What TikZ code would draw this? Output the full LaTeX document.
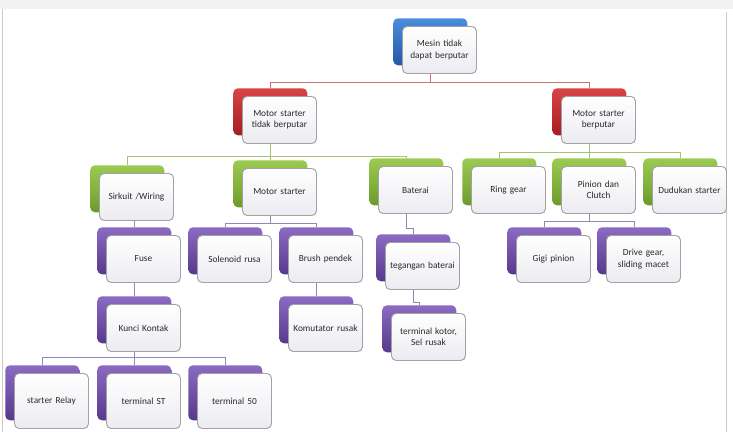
\documentclass[tikz,border=0pt]{standalone}
\usepackage{fontspec}
\setmainfont{Carlito}
\usetikzlibrary{calc}
\definecolor{bluetop}{HTML}{4A8EDB}
\definecolor{bluebot}{HTML}{2457A8}
\definecolor{redtop}{HTML}{D94446}
\definecolor{redbot}{HTML}{A51D22}
\definecolor{greentop}{HTML}{9CCB52}
\definecolor{greenbot}{HTML}{6C9B2A}
\definecolor{purptop}{HTML}{8C6BC2}
\definecolor{purpbot}{HTML}{56398C}
\definecolor{frontline}{HTML}{A2A2A6}
\definecolor{frontbot}{HTML}{ECEBF1}
\definecolor{txt}{HTML}{2A2A2A}
\definecolor{linered}{HTML}{CC7476}
\definecolor{linegreen}{HTML}{A4C46E}
\definecolor{linepurp}{HTML}{9088B6}
\definecolor{framegray}{HTML}{CACACA}
\newcommand\pairnode[6]{%
  \node[#2,#5] (#1B) at (#3,#4) {};
  \node[frontbox,#5] (#1) at (#3+9,#4+8) {#6};
}
\tikzset{
  backbox/.style={rectangle, rounded corners=3.5pt, minimum width=55.5pt, minimum height=35.25pt, inner sep=0pt, anchor=north west, draw=none},
  bluebox/.style={backbox, top color=bluetop, bottom color=bluebot},
  redbox/.style={backbox, top color=redtop, bottom color=redbot},
  greenbox/.style={backbox, top color=greentop, bottom color=greenbot},
  purpbox/.style={backbox, top color=purptop, bottom color=purpbot},
  frontbox/.style={rectangle, rounded corners=3.5pt, minimum width=55.5pt, minimum height=35.25pt, inner sep=1pt, align=center, anchor=north west, draw=frontline, line width=0.7pt, top color=white, bottom color=frontbot, font=\fontsize{7}{8.6}\selectfont, text=txt, text width=52pt},
  tallbox/.style={minimum height=41.25pt},
  cred/.style={draw=linered, line width=0.7pt},
  cgreen/.style={draw=linegreen, line width=0.7pt},
  cpurp/.style={draw=linepurp, line width=0.7pt},
}
\begin{document}
\begin{tikzpicture}[x=0.75pt,y=-0.75pt]
\useasboundingbox (0,0) rectangle (733,432);
\fill[white] (0,0) rectangle (733,432);
\fill[black!5] (0,0) rectangle (733,9);
\draw[framegray, line width=0.75pt] (2,9) -- (2,432);
\draw[framegray, line width=0.75pt] (726,12) -- (726,432);
% level 0
\pairnode{top}{bluebox}{393}{18}{}{Mesin tidak\\dapat berputar}
% level 1
\pairnode{mr}{redbox}{233}{88}{}{Motor starter\\tidak berputar}
\pairnode{mb}{redbox}{552}{88}{}{Motor starter\\berputar}
% level 2
\pairnode{sirk}{greenbox}{90}{165}{}{Sirkuit /Wiring}
\pairnode{mg}{greenbox}{233}{160}{}{Motor starter}
\pairnode{bat}{greenbox}{369}{158}{}{Baterai}
\pairnode{ring}{greenbox}{462}{158}{}{Ring gear}
\pairnode{pin}{greenbox}{552}{158}{}{Pinion dan\\Clutch}
\pairnode{dud}{greenbox}{643}{158}{}{Dudukan starter}
% level 3
\pairnode{fuse}{purpbox}{97}{227}{}{Fuse}
\pairnode{sol}{purpbox}{188}{227}{}{Solenoid rusa}
\pairnode{br}{purpbox}{279}{227}{}{Brush pendek}
\pairnode{teg}{purpbox}{376}{234}{}{tegangan baterai}
\pairnode{gigi}{purpbox}{507}{227}{}{Gigi pinion}
\pairnode{drv}{purpbox}{597}{227}{}{Drive gear,\\sliding macet}
% level 4
\pairnode{kunci}{purpbox}{97}{296}{}{Kunci Kontak}
\pairnode{kom}{purpbox}{279}{296}{}{Komutator rusak}
\pairnode{kot}{purpbox}{382}{305}{}{terminal kotor,\\Sel rusak}
% level 5
\pairnode{rel}{purpbox}{5}{365}{tallbox}{starter Relay}
\pairnode{st}{purpbox}{97}{365}{tallbox}{terminal ST}
\pairnode{tf}{purpbox}{188}{365}{tallbox}{terminal 50}
% connectors level 1
\draw[cred] (top.south -| topB.south) -- ++(0,9) coordinate (j1);
\draw[cred] (j1) -| (mrB.north);
\draw[cred] (j1) -| (mbB.north);
% level 2
\draw[cgreen] (mr.south -| mrB.south) -- ++(0,13) coordinate (j2);
\draw[cgreen] (j2) -| (sirkB.north);
\draw[cgreen] (j2) -| (mgB.north);
\draw[cgreen] (j2) -| (batB.north);
\draw[cgreen] (mb.south -| mbB.south) -- ++(0,9) coordinate (j3);
\draw[cgreen] (j3) -| (ringB.north);
\draw[cgreen] (j3) -| (pinB.north);
\draw[cgreen] (j3) -| (dudB.north);
% level 3
\draw[cpurp] (sirk.south -| fuseB.north) -- (fuseB.north);
\draw[cpurp] (mg.south -| mgB.south) -- ++(0,8) coordinate (j4);
\draw[cpurp] (j4) -| (solB.north);
\draw[cpurp] (j4) -| (brB.north);
\draw[cpurp] (bat.south -| batB.south) -- ++(0,15) coordinate (j5);
\draw[cpurp] (j5) -| (tegB.north);
\draw[cpurp] (pin.south -| pinB.south) -- ++(0,8) coordinate (j6);
\draw[cpurp] (j6) -| (gigiB.north);
\draw[cpurp] (j6) -| (drvB.north);
% level 4
\draw[cpurp] (fuse.south -| kunciB.north) -- (kunciB.north);
\draw[cpurp] (br.south -| komB.north) -- (komB.north);
\draw[cpurp] (teg.south -| tegB.south) -- ++(0,13) coordinate (j7);
\draw[cpurp] (j7) -| (kotB.north);
% level 5
\draw[cpurp] (kunci.south -| kunciB.south) -- ++(0,6) coordinate (j8);
\draw[cpurp] (j8) -| (relB.north);
\draw[cpurp] (j8) -| (stB.north);
\draw[cpurp] (j8) -| (tfB.north);
\end{tikzpicture}
\end{document}
